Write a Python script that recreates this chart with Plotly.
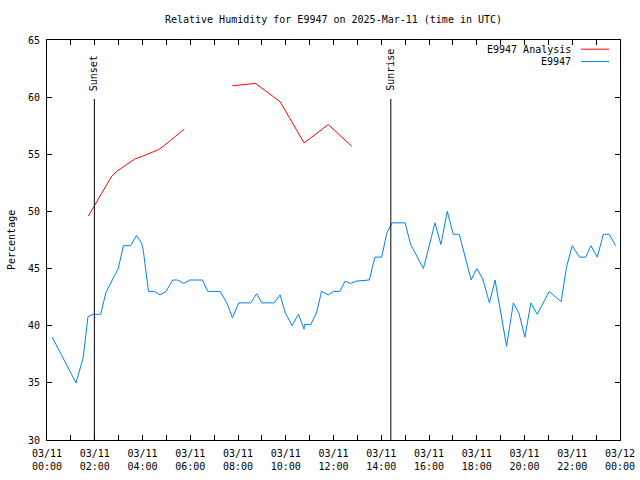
import plotly.graph_objects as go

DAY = "2025-03-11"
NEXT_DAY = "2025-03-12"

# Station observations (E9947)
obs_times = ["00:13", "01:13", "01:31", "01:43", "01:56", "02:15", "02:28", "02:38", "02:51", "02:59",
             "03:12", "03:30", "03:45", "03:58", "04:02", "04:15", "04:30", "04:44", "04:59", "05:16",
             "05:28", "05:44", "05:59", "06:31", "06:44", "07:15", "07:32", "07:46", "08:02", "08:32",
             "08:47", "09:00", "09:31", "09:46", "09:58", "10:16", "10:32", "10:46", "10:47", "11:03",
             "11:18", "11:30", "11:47", "12:00", "12:16", "12:29", "12:43", "12:57", "13:30", "13:44",
             "14:01", "14:14", "14:27", "15:00", "15:14", "15:46", "16:15", "16:30", "16:46", "17:01",
             "17:16", "17:46", "18:00", "18:15", "18:32", "18:46", "19:15", "19:32", "19:46", "20:01",
             "20:16", "20:32", "21:02", "21:32", "21:46", "22:00", "22:18", "22:34", "22:47", "23:03",
             "23:18", "23:33", "23:49"]
obs_values = [39.0, 35.0, 37.2, 40.8, 41.0, 41.0, 42.9, 43.6, 44.4, 45.0,
              47.0, 47.0, 47.9, 47.2, 46.6, 43.0, 43.0, 42.7, 43.0, 44.0,
              44.0, 43.7, 44.0, 44.0, 43.0, 43.0, 42.0, 40.7, 42.0, 42.0,
              42.8, 42.0, 42.0, 42.7, 41.2, 40.0, 41.0, 39.7, 40.1, 40.1,
              41.2, 43.0, 42.7, 43.0, 43.0, 43.9, 43.7, 43.9, 44.0, 46.0,
              46.0, 48.1, 49.0, 49.0, 47.1, 45.0, 49.0, 47.1, 50.0, 48.0,
              48.0, 44.0, 45.0, 44.1, 42.0, 44.0, 38.2, 42.0, 41.1, 39.0,
              42.0, 41.0, 43.0, 42.1, 45.2, 47.0, 46.0, 46.0, 47.0, 46.0,
              48.0, 48.0, 47.0]

# Analysis (gap where missing)
ana_times = ["01:44", "02:43", "02:55", "03:41", "03:58", "04:40", "04:52", "05:45", "06:45",
             "07:46", "08:13", "08:44", "09:46", "10:46", "11:47", "12:46"]
ana_values = [49.6, 53.1, 53.5, 54.6, 54.8, 55.4, 55.7, 57.2, None,
              61.0, 61.1, 61.2, 59.6, 56.0, 57.6, 55.7]

sun_events = ["Sunset", "Sunrise"]
sun_times = ["01:59", "14:24"]

FONT = "DejaVu Sans Mono"
RED = "#ff0000"
BLUE = "#0080ff"

fig = go.Figure()
fig.add_trace(go.Scatter(x=[f"{DAY} {t}" for t in ana_times], y=ana_values, mode="lines",
                         line=dict(color=RED, width=1), name="E9947 Analysis", showlegend=False))
fig.add_trace(go.Scatter(x=[f"{DAY} {t}" for t in obs_times], y=obs_values, mode="lines",
                         line=dict(color=BLUE, width=1), name="E9947", showlegend=False))

for ev, t in zip(sun_events, sun_times):
    fig.add_shape(type="line", xref="x", yref="paper", x0=f"{DAY} {t}", x1=f"{DAY} {t}",
                  y0=0, y1=0.8525, line=dict(color="black", width=1))
    fig.add_annotation(x=f"{DAY} {t}", xref="x", yref="paper", y=0.8675, text=ev,
                       textangle=-90, showarrow=False, yanchor="bottom", xanchor="center",
                       font=dict(family=FONT, size=10, color="black"))

# custom legend (text right, sample to the right)
legend_items = [("E9947 Analysis", RED, 0.977), ("E9947", BLUE, 0.946)]
for name, col, yy in legend_items:
    fig.add_annotation(x=0.9185, y=yy, xref="paper", yref="paper", text=name, showarrow=False,
                       xanchor="right", yanchor="middle", font=dict(family=FONT, size=10, color="black"))
    fig.add_shape(type="line", xref="paper", yref="paper", x0=0.932, x1=0.981, y0=yy, y1=yy,
                  line=dict(color=col, width=1))

fig.add_annotation(x=0, xref="paper", xshift=-36, y=0.5, yref="paper", text="Percentage",
                   textangle=-90, showarrow=False, xanchor="center", yanchor="middle",
                   font=dict(family=FONT, size=10, color="black"))

fig.update_layout(
    width=640, height=480,
    margin=dict(l=47, r=20, t=40, b=40, autoexpand=False),
    paper_bgcolor="white", plot_bgcolor="white",
    title=dict(text="Relative Humidity for E9947 on 2025-Mar-11 (time in UTC)", x=0.5, xref="paper",
               y=1 - 19 / 480, yref="container", yanchor="middle", automargin=False,
               font=dict(family=FONT, size=10, color="black")),
    font=dict(family=FONT, size=10, color="black"),
    showlegend=False,
)
fig.update_xaxes(type="date", range=[f"{DAY} 00:00", f"{NEXT_DAY} 00:00"],
                 tick0=f"{DAY} 00:00", dtick=7200000, tickformat="%m/%d<br>%H:%M",
                 ticks="inside", ticklen=5, tickcolor="black", showline=True, automargin=False,
                 linecolor="black", linewidth=1, mirror="ticks", showgrid=False, zeroline=False,
                 ticklabelstandoff=4,
                 minor=dict(dtick=3600000, ticks="inside", ticklen=5, tickcolor="black", showgrid=False),
                 tickfont=dict(family=FONT, size=10, color="black"))
fig.update_yaxes(range=[30, 65], dtick=5, tick0=30, ticks="inside", ticklen=5, tickcolor="black",
                 showline=True, linecolor="black", linewidth=1, mirror="ticks", showgrid=False,
                 automargin=False, zeroline=False, ticklabelstandoff=4,
                 tickfont=dict(family=FONT, size=10, color="black"))

fig.write_html("out.html", config={"displayModeBar": False},
               post_script="document.body.style.margin='0px';")
